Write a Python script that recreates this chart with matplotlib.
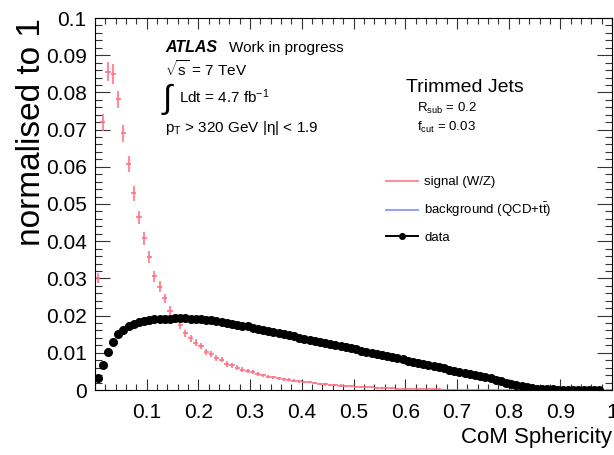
import matplotlib
matplotlib.use('Agg')
import matplotlib.pyplot as plt
from matplotlib.lines import Line2D
from matplotlib.ticker import MultipleLocator
import numpy as np

plt.rcParams['font.family'] = ['Liberation Sans', 'DejaVu Sans']
plt.rcParams['mathtext.fontset'] = 'custom'
plt.rcParams['mathtext.rm'] = 'Liberation Sans'
plt.rcParams['mathtext.it'] = 'Liberation Sans:italic'
plt.rcParams['mathtext.bf'] = 'Liberation Sans:bold'

# 100 bins of CoM sphericity, width 0.01
bin_width = 0.01
bin_centres = np.arange(100) * bin_width + bin_width / 2

# signal (W/Z), normalised
signal = [0.0301, 0.0720, 0.0856, 0.0849, 0.0781, 0.0690, 0.0608, 0.0529, 0.0464, 0.0408,
          0.0357, 0.0306, 0.0278, 0.0246, 0.0213, 0.0193, 0.0175, 0.0152, 0.0139, 0.0127,
          0.0118, 0.0103, 0.0096, 0.0087, 0.0081, 0.0070, 0.0066, 0.0060, 0.0055, 0.0051,
          0.0048, 0.0043, 0.0039, 0.0036, 0.0034, 0.0031, 0.0029, 0.0027, 0.0025, 0.0023,
          0.0022, 0.0021, 0.0019, 0.0017, 0.0015, 0.0014, 0.0013, 0.0012, 0.0011, 0.0010,
          0.0009, 0.0008, 0.0008, 0.0007, 0.0006, 0.0006, 0.0005, 0.0005, 0.0004, 0.0004,
          0.0003, 0.0003, 0.0003, 0.0002, 0.0002, 0.0002, 0.0002, 0.0001, 0.0001, 0.0001,
          0.0001, 0.0001, 0.0001, 0.0001, 0.0001, 0.0001, 0.0001, 0.0001, 0.0001, 0.0001,
          0.0001, 0.0001, 0.0001, 0.0001, 0.0001, 0.0001, 0.0, 0.0, 0.0, 0.0,
          0.0, 0.0, 0.0, 0.0, 0.0, 0.0, 0.0, 0.0, 0.0, 0.0]
signal_err = [0.0013, 0.0023, 0.0026, 0.0026, 0.0024, 0.0022, 0.0021, 0.0020, 0.0018, 0.0017,
              0.0016, 0.0015, 0.0014, 0.0013, 0.0012, 0.0011, 0.0011, 0.0010, 0.0010, 0.0009,
              0.0009, 0.0008, 0.0008, 0.0008, 0.0007, 0.0007, 0.0007, 0.0006, 0.0006, 0.0006,
              0.0005, 0.0005, 0.0005, 0.0005, 0.0004, 0.0004, 0.0004, 0.0004, 0.0004, 0.0004,
              0.0003, 0.0003, 0.0003, 0.0003, 0.0003, 0.0003, 0.0003, 0.0003, 0.0002, 0.0002,
              0.0002, 0.0002, 0.0002, 0.0002, 0.0002, 0.0002, 0.0001, 0.0001, 0.0001, 0.0001,
              0.0001, 0.0001, 0.0001, 0.0001, 0.0001, 0.0001, 0.0001, 0.0001, 0.0001, 0.0001,
              0.0, 0.0, 0.0, 0.0, 0.0, 0.0, 0.0, 0.0, 0.0, 0.0,
              0.0, 0.0, 0.0, 0.0, 0.0, 0.0, 0.0, 0.0, 0.0, 0.0,
              0.0, 0.0, 0.0, 0.0, 0.0, 0.0, 0.0, 0.0, 0.0, 0.0]

# data, normalised (last two bins empty)
data = [0.0033, 0.0068, 0.0102, 0.0129, 0.0150, 0.0161, 0.0172, 0.0178, 0.0183, 0.0186,
        0.0188, 0.0190, 0.0191, 0.0192, 0.0192, 0.0193, 0.0193, 0.0193, 0.0192, 0.0191,
        0.0190, 0.0189, 0.0187, 0.0185, 0.0183, 0.0181, 0.0178, 0.0176, 0.0173, 0.0171,
        0.0168, 0.0165, 0.0162, 0.0159, 0.0156, 0.0153, 0.0150, 0.0147, 0.0144, 0.0141,
        0.0138, 0.0135, 0.0133, 0.0130, 0.0127, 0.0124, 0.0121, 0.0118, 0.0115, 0.0112,
        0.0109, 0.0106, 0.0103, 0.0100, 0.0097, 0.0094, 0.0091, 0.0088, 0.0085, 0.0082,
        0.0079, 0.0076, 0.0073, 0.0070, 0.0067, 0.0064, 0.0061, 0.0058, 0.0055, 0.0052,
        0.0049, 0.0046, 0.0043, 0.0040, 0.0037, 0.0034, 0.0031, 0.0027, 0.0024, 0.0020,
        0.0017, 0.0014, 0.0011, 0.0008, 0.0006, 0.0004, 0.0003, 0.0002, 0.0002, 0.0001,
        0.0001, 0.0001, 0.0001, 0.0001, 0.0001, 0.0001, 0.0001, 0.0001]

xtick_vals = [0.1, 0.2, 0.3, 0.4, 0.5, 0.6, 0.7, 0.8, 0.9, 1.0]
xtick_labels = ['0.1', '0.2', '0.3', '0.4', '0.5', '0.6', '0.7', '0.8', '0.9', '1']
ytick_vals = [0, 0.01, 0.02, 0.03, 0.04, 0.05, 0.06, 0.07, 0.08, 0.09, 0.1]
ytick_labels = ['0', '0.01', '0.02', '0.03', '0.04', '0.05', '0.06', '0.07', '0.08', '0.09', '0.1']

sig_col = '#ff6f82'
bkg_col = '#8da2ff'

W, H = 614, 455
fig = plt.figure(figsize=(W / 100, H / 100), dpi=100)
ax = fig.add_axes([95 / W, 1 - 390 / H, (612 - 95) / W, (390 - 18) / H])

ax.errorbar(bin_centres, signal, xerr=bin_width / 2, yerr=signal_err, fmt='none',
            ecolor=sig_col, elinewidth=1.5, capsize=0, alpha=0.8, zorder=2)
ax.plot(bin_centres[:len(data)], data, 'o', color='black', markersize=6.5,
        markeredgewidth=0, zorder=3)

ax.set_xlim(0, 1)
ax.set_ylim(0, 0.1)
ax.set_xticks(xtick_vals)
ax.set_xticklabels(xtick_labels)
ax.set_yticks(ytick_vals)
ax.set_yticklabels(ytick_labels)
ax.xaxis.set_minor_locator(MultipleLocator(0.02))
ax.yaxis.set_minor_locator(MultipleLocator(0.002))
ax.tick_params(which='both', direction='in', top=True, right=True, color='#333333', width=0.8)
ax.tick_params(axis='y', which='major', length=11, labelsize=15, pad=6)
ax.tick_params(axis='y', which='minor', length=5)
ax.tick_params(axis='x', which='major', length=8, labelsize=15, pad=9)
ax.tick_params(axis='x', which='minor', length=4)
for s in ax.spines.values():
    s.set_linewidth(0.8)

fig.text(612 / W, 1 - 438 / H, 'CoM Sphericity', ha='right', va='center', fontsize=16)
fig.text(32 / W, 1 - 18 / H, 'normalised to 1', rotation=90, ha='center', va='top', fontsize=24)

# ATLAS label block
fig.text(165 / W, 1 - 48 / H, 'ATLAS', fontsize=11.5, fontweight='bold', fontstyle='italic', va='center')
fig.text(229 / W, 1 - 48 / H, 'Work in progress', fontsize=11, va='center')
fig.text(165 / W, 1 - 69 / H, r'$\sqrt{\mathrm{s}}$ = 7 TeV', fontsize=11, va='center')
fig.text(163 / W, 1 - 99 / H, '\u222b', fontsize=24, va='center')
fig.text(179 / W, 1 - 97 / H, r'Ldt = 4.7 fb$^{\mathrm{-1}}$', fontsize=11, va='center')
fig.text(165 / W, 1 - 128 / H, 'p$_{\\mathrm{T}}$ > 320 GeV |\u03b7| < 1.9', fontsize=11, va='center')

fig.text(406 / W, 1 - 87 / H, 'Trimmed Jets', fontsize=14, va='center')
fig.text(417 / W, 1 - 108 / H, r'R$_{\mathrm{sub}}$ = 0.2', fontsize=9.5, va='center')
fig.text(417 / W, 1 - 127 / H, r'f$_{\mathrm{cut}}$ = 0.03', fontsize=9.5, va='center')

handles = [Line2D([], [], color=sig_col, lw=1.4, alpha=0.8),
           Line2D([], [], color=bkg_col, lw=1.4),
           Line2D([], [], color='black', lw=1.4, marker='o', markersize=4)]
labels = ['signal (W/Z)', r'background (QCD+t$\bar{\mathrm{t}}$)', 'data']
fig.legend(handles, labels, loc='upper left', bbox_to_anchor=(386 / W, 1 - 176 / H),
           frameon=False, fontsize=9.5, handlelength=2.4, handletextpad=0.5,
           labelspacing=0.95, borderpad=0, borderaxespad=0)

fig.savefig('out.png', dpi=100)
